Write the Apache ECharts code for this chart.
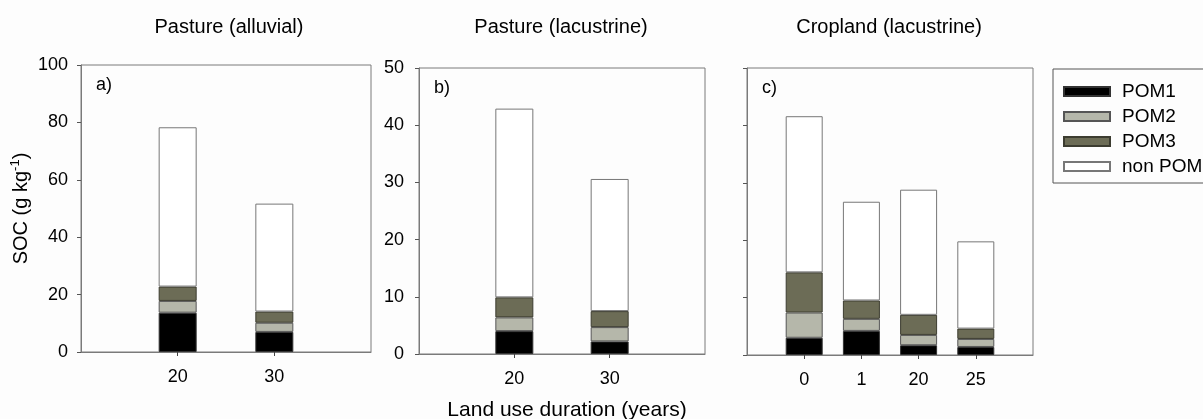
<!DOCTYPE html>
<html>
<head>
<meta charset="utf-8">
<script src="https://cdn.jsdelivr.net/npm/echarts@6/dist/echarts.min.js"></script>
<style>
  html, body { margin: 0; padding: 0; background: #fdfdfd; }
  #chart { width: 1203px; height: 419px; }
</style>
</head>
<body>
<div id="chart"></div>
<script>
// Land use duration (years) per site
const yearsA = ['20', '30'];
const yearsB = ['20', '30'];
const yearsC = ['0', '1', '20', '25'];

// SOC fractions (g kg-1), stacked segments
const pom1A = [13.7, 7.0];
const pom2A = [4.1, 3.2];
const pom3A = [5.0, 3.9];
const nonA  = [55.5, 37.6];

const pom1B = [4.0, 2.2];
const pom2B = [2.4, 2.5];
const pom3B = [3.5, 2.8];
const nonB  = [33.0, 23.1];

const pom1C = [3.0, 4.2, 1.7, 1.4];
const pom2C = [4.4, 2.1, 1.8, 1.4];
const pom3C = [7.0, 3.2, 3.5, 1.8];
const nonC  = [27.2, 17.2, 21.8, 15.2];

const titles = ['Pasture (alluvial)', 'Pasture (lacustrine)', 'Cropland (lacustrine)'];
const panelTags = ['a)', 'b)', 'c)'];
const fractionNames = ['POM1', 'POM2', 'POM3', 'non POM'];

const FONT = '"Liberation Sans", Arial, sans-serif';
const FRAME = '#7a7a7a';
const fills = ['#000000', '#b5b7aa', '#6c6c56', '#ffffff'];
const borders = ['#333333', '#555555', '#3c3c30', '#777777'];

// pad category lists with an empty slot at each end so bars sit inward
const pad = arr => [' ', ...arr, '  '];
const padVals = arr => [null, ...arr, null];

const panels = [
  { cats: yearsA, sets: [pom1A, pom2A, pom3A, nonA], max: 100, step: 20, labels: true, barW: 38 },
  { cats: yearsB, sets: [pom1B, pom2B, pom3B, nonB], max: 50, step: 10, labels: true, barW: 38 },
  { cats: yearsC, sets: [pom1C, pom2C, pom3C, nonC], max: 50, step: 10, labels: false, barW: 37 }
];

const grids = [
  { left: 81, top: 65, width: 290, height: 287 },
  { left: 419, top: 68, width: 286, height: 286 },
  { left: 747, top: 68, width: 286, height: 287 }
];
const titleX = [229, 561, 889];

const option = {
  backgroundColor: '#fdfdfd',
  animation: false,
  textStyle: { fontFamily: FONT },
  grid: grids.map(g => Object.assign({ show: true, borderColor: FRAME, borderWidth: 1, backgroundColor: 'transparent' }, g)),
  xAxis: panels.map((p, i) => ({
    type: 'category',
    gridIndex: i,
    data: pad(p.cats),
    boundaryGap: false,
    axisLine: { lineStyle: { color: FRAME } },
    axisTick: {
      length: 4, inside: false,
      interval: (idx, val) => val.trim() !== '',
      lineStyle: { color: '#444' }
    },
    axisLabel: {
      interval: 0, margin: 16,
      color: '#000', fontSize: 18, fontFamily: FONT
    },
    splitLine: { show: false }
  })),
  yAxis: panels.map((p, i) => ({
    type: 'value',
    gridIndex: i,
    min: 0, max: p.max, interval: p.step,
    axisLine: { show: true, lineStyle: { color: FRAME } },
    axisTick: { show: true, length: 4, lineStyle: { color: '#555' } },
    axisLabel: { show: p.labels, margin: i === 0 ? 13 : 15, color: '#000', fontSize: 18, fontFamily: FONT },
    splitLine: { show: false },
    name: i === 0 ? 'SOC (g kg{sup|-1})' : '',
    nameLocation: 'middle',
    nameRotate: 90,
    nameGap: 48,
    nameTextStyle: {
      color: '#000', fontSize: 20, fontFamily: FONT, lineHeight: 24,
      rich: { sup: { fontSize: 13, fontFamily: FONT, color: '#000', verticalAlign: 'top', lineHeight: 13 } }
    }
  })),
  legend: {
    orient: 'vertical',
    left: 1053, top: 69,
    data: fractionNames,
    itemWidth: 46, itemHeight: 9,
    itemGap: 6,
    padding: [13, 60, 7, 10],
    borderColor: '#555', borderWidth: 1,
    backgroundColor: '#fdfdfd',
    icon: 'rect',
    selectedMode: false,
    textStyle: { color: '#000', fontSize: 19, fontFamily: FONT, lineHeight: 18, padding: [0, 0, 0, 7] }
  },
  series: [],
  graphic: []
};

panels.forEach((p, i) => {
  p.sets.forEach((vals, k) => {
    option.series.push({
      type: 'bar',
      name: fractionNames[k],
      xAxisIndex: i, yAxisIndex: i,
      stack: 'soc' + i,
      barWidth: p.barW,
      data: padVals(vals),
      itemStyle: { color: fills[k], borderColor: borders[k], borderWidth: 1 }
    });
  });
});

// panel titles and tags
grids.forEach((g, i) => {
  option.graphic.push({
    type: 'text', x: titleX[i], y: 27,
    style: { text: titles[i], align: 'center', verticalAlign: 'middle', fontSize: 20, fontFamily: FONT, fill: '#000' }
  });
  option.graphic.push({
    type: 'text', x: g.left + 15, y: g.top + 20,
    style: { text: panelTags[i], align: 'left', verticalAlign: 'middle', fontSize: 18, fontFamily: FONT, fill: '#000' }
  });
});

// shared x-axis name
option.graphic.push({
  type: 'text', x: 567, y: 410,
  style: { text: 'Land use duration (years)', align: 'center', verticalAlign: 'middle', fontSize: 21, fontFamily: FONT, fill: '#000' }
});

const chart = echarts.init(document.getElementById('chart'), null, { renderer: 'canvas' });
chart.setOption(option);
</script>
</body>
</html>
